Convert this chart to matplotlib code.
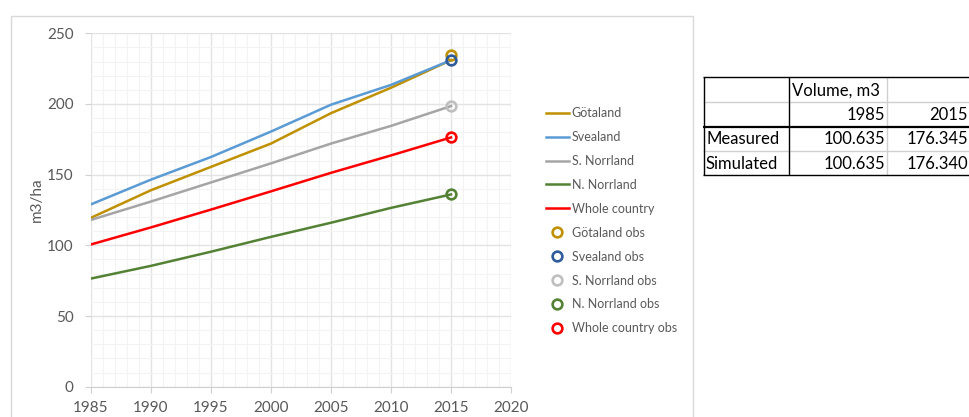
import matplotlib
matplotlib.use("Agg")
import matplotlib.pyplot as plt
from matplotlib.patches import Rectangle
from matplotlib.ticker import MultipleLocator

plt.rcParams['font.family'] = ['Lato', 'DejaVu Sans']

# ---- data ----
years = [1985, 1990, 1995, 2000, 2005, 2010, 2015]
gotaland = [119.5, 139, 155.5, 172, 193.5, 211.5, 231]
svealand = [129, 146.5, 162.5, 180.5, 199.5, 213.5, 231]
s_norrland = [118, 131, 144.5, 158, 172, 184.5, 198.5]
n_norrland = [76.5, 85.5, 95.5, 106, 116, 126.5, 136]
whole_country = [100.635, 112.7, 125.3, 138.2, 151.3, 163.6, 176.34]

obs_year = [2015]
gotaland_obs = [234.5]
svealand_obs = [231]
s_norrland_obs = [198.5]
n_norrland_obs = [136]
whole_country_obs = [176.345]

series_names = ["Götaland", "Svealand", "S. Norrland", "N. Norrland", "Whole country"]
line_colors = ["#BF9000", "#5B9BD5", "#A5A5A5", "#548235", "#FF0000"]
obs_colors = ["#BF9000", "#2E5C9A", "#BFBFBF", "#548235", "#FF0000"]

table_header = "Volume, m3"
table_years = ["1985", "2015"]
table_rows = ["Measured", "Simulated"]
table_values = [[100.635, 176.345], [100.635, 176.340]]

W, H = 969, 417
fig = plt.figure(figsize=(W / 100, H / 100), dpi=100)

# chart area border
fig.add_artist(Rectangle((11 / W, -0.05), (693 - 11) / W, 1 - 16 / H + 0.05,
                         transform=fig.transFigure, fill=False,
                         edgecolor="#D9D9D9", linewidth=1.0))

ax = fig.add_axes([91 / W, 1 - 386.7 / H, (511 - 91) / W, (386.7 - 33.3) / H])
ax.set_xlim(1985, 2020)
ax.set_ylim(0, 250)
ax.xaxis.set_major_locator(MultipleLocator(5))
ax.xaxis.set_minor_locator(MultipleLocator(1))
ax.yaxis.set_major_locator(MultipleLocator(50))
ax.yaxis.set_minor_locator(MultipleLocator(10))
ax.grid(which="major", color="#E3E3E3", linewidth=1.0)
ax.grid(which="minor", color="#F3F3F3", linewidth=0.8)
ax.set_axisbelow(True)
for s in ["top", "right", "left"]:
    ax.spines[s].set_visible(False)
ax.spines["bottom"].set_color("#D0D0D0")
ax.tick_params(which="major", length=4, color="#D0D0D0", labelcolor="#595959",
               labelsize=11)
ax.tick_params(axis="x", which="major", pad=6.5)
ax.tick_params(axis="y", which="major", pad=8.5)
ax.tick_params(which="minor", length=0)
ax.set_ylabel("m3/ha", color="#595959", fontsize=11)
ax.yaxis.set_label_coords(-0.112, 0.528)

series = [gotaland, svealand, s_norrland, n_norrland, whole_country]
obs = [gotaland_obs, svealand_obs, s_norrland_obs, n_norrland_obs, whole_country_obs]

handles = []
for name, vals, c in zip(series_names, series, line_colors):
    h, = ax.plot(years, vals, color=c, linewidth=1.8, label=name, zorder=3)
    handles.append(h)
for name, vals, c in zip(series_names, obs, obs_colors):
    h, = ax.plot(obs_year, vals, linestyle="none", marker="o", markersize=7,
                 markerfacecolor="none", markeredgecolor=c, markeredgewidth=1.9,
                 label=name + " obs", zorder=4)
    handles.append(h)

leg = fig.legend(handles=handles, loc="upper left",
                 bbox_to_anchor=(541 / W, 1 - 102 / H), frameon=False,
                 fontsize=9, labelcolor="#595959", handlelength=1.8,
                 handletextpad=0.25, labelspacing=0.955, borderaxespad=0)

# ---- table ----
x0, x1, x2, x3 = 703, 789, 887, 969
ys = [77.3, 102, 127, 151, 175.3]
tax = fig.add_axes([x0 / W, 1 - ys[-1] / H, (x3 - x0) / W, (ys[-1] - ys[0]) / H])
tax.set_xlim(x0, x3)
tax.set_ylim(ys[-1], ys[0])
tax.axis("off")

def hline(y, c, lw):
    tax.plot([x0, x3], [y, y], color=c, linewidth=lw, clip_on=False, solid_capstyle="butt")

def vline(x, c, lw):
    tax.plot([x, x], [ys[0], ys[-1]], color=c, linewidth=lw, clip_on=False, solid_capstyle="butt")

vline(x2, "#D0D0D0", 1.0)
hline(ys[1], "#D0D0D0", 1.0)
hline(ys[3], "#D0D0D0", 1.0)
hline(ys[0], "black", 1.0)
hline(ys[2], "black", 1.6)
hline(ys[4], "black", 1.0)
vline(x0 + 0.5, "black", 1.0)
vline(x1, "black", 1.0)

fs = 12
def rowc(i):
    return (ys[i] + ys[i + 1]) / 2 + 0.5

tax.text(x1 + 3, rowc(0), table_header, ha="left", va="center", fontsize=fs, color="black")
tax.text(x2 - 2, rowc(1), table_years[0], ha="right", va="center", fontsize=fs)
tax.text(x3 - 1, rowc(1), table_years[1], ha="right", va="center", fontsize=fs)
for r, (lab, vals) in enumerate(zip(table_rows, table_values)):
    tax.text(x0 + 3, rowc(2 + r), lab, ha="left", va="center", fontsize=fs)
    tax.text(x2 - 2, rowc(2 + r), f"{vals[0]:.3f}", ha="right", va="center", fontsize=fs)
    tax.text(x3 - 1, rowc(2 + r), f"{vals[1]:.3f}", ha="right", va="center", fontsize=fs)

fig.savefig("out.png", dpi=100)
